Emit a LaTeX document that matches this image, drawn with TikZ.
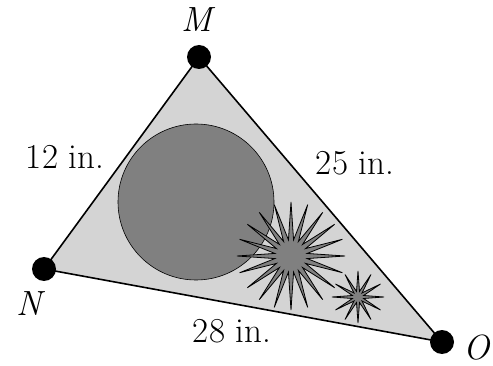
\documentclass[tikz,border=0pt]{standalone}
\usetikzlibrary{shapes.geometric}
\begin{document}
\begin{tikzpicture}[x=1pt,y=-1pt,
  vdot/.style={circle,fill=black,inner sep=0,minimum size=24pt},
  lbl/.style={font=\fontsize{35}{40}\selectfont,inner sep=0},
  spark/.style={star,draw=black,fill=gray,inner sep=0,line width=0.8pt}]
\useasboundingbox (0,0) rectangle (493,366);
\coordinate (m) at (199,57);
\coordinate (n) at (44,269);
\coordinate (o) at (442,342);
\draw[fill=black!17,line width=1.6pt,line join=round] (m) -- (n) -- (o) -- cycle;
\node[circle,draw=black,fill=gray,minimum size=156pt,inner sep=0,line width=0.6pt] (c) at (196,202) {};
\node[spark,star points=20,star point ratio=3.3,minimum size=108pt] (s1) at (291,256) {};
\node[spark,star points=12,star point ratio=4.5,minimum size=52pt] (s2) at (358,297) {};
\node[vdot] (M) at (m) {};
\node[vdot] (N) at (n) {};
\node[vdot] (O) at (o) {};
\node[lbl] (lm) at (199,20) {\textit{M}};
\node[lbl] (ln) at (31,304) {\textit{N}};
\node[lbl] (lo) at (477,348) {\textit{O}};
\node[lbl] (a) at (65,157) {12 in.};
\node[lbl] (b) at (355,163) {25 in.};
\node[lbl] (d) at (232,331) {28 in.};
\end{tikzpicture}
\end{document}
